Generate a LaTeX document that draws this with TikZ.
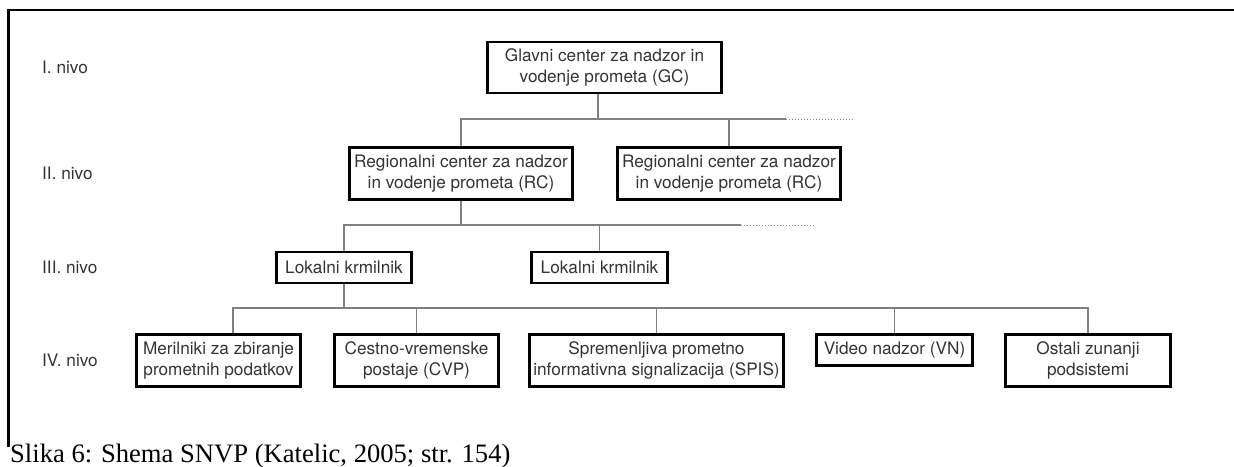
\documentclass[tikz,border=0pt]{standalone}
\usepackage{fontspec}
\newfontfamily\boxfont{TeX Gyre Heros}
\newfontfamily\capfont{Liberation Serif}
\begin{document}
\begin{tikzpicture}[x=1pt,y=-1pt,
  unit/.style={draw=black, line width=2.6pt, rectangle, inner sep=0pt,
    align=center, text=black!80, font=\boxfont\fontsize{17.2}{21}\selectfont},
  twoline/.style={unit, minimum height=52.5pt},
  oneline/.style={unit, minimum height=31pt},
  levellabel/.style={anchor=west, inner sep=0pt, text=black!80,
    font=\boxfont\fontsize{17.2}{21}\selectfont},
  conn/.style={draw=black!50, line width=1.2pt},
  dots/.style={draw=black!45, line width=1pt, dash pattern=on 1.2pt off 1.8pt}]
\useasboundingbox (0,0) rectangle (1234,466);

% outer frame (top and left edges)
\draw[line width=2.2pt] (1234,10) -- (8.5,10) -- (8.5,447);

% level labels
\node[levellabel] (lvI)   at (42,67.5)  {I. nivo};
\node[levellabel] (lvII)  at (42,173.5) {II. nivo};
\node[levellabel] (lvIII) at (42,267.5) {III. nivo};
\node[levellabel] (lvIV)  at (42,360.5) {IV. nivo};

% level I
\node[twoline, minimum width=234.5pt, minimum height=51pt] (gc) at (604.5,67.5)
  {Glavni center za nadzor in\\vodenje prometa (GC)};

% level II
\node[twoline, minimum width=223.5pt] (rc1) at (461,173.5)
  {Regionalni center za nadzor\\in vodenje prometa (RC)};
\node[twoline, minimum width=223.5pt] (rc2) at (729,173.5)
  {Regionalni center za nadzor\\in vodenje prometa (RC)};

% level III
\node[oneline, minimum width=135.5pt] (lk1) at (344,267.5) {Lokalni krmilnik};
\node[oneline, minimum width=136.5pt] (lk2) at (599.5,267.5) {Lokalni krmilnik};

% level IV
\node[twoline, minimum width=164.5pt] (s1) at (218.5,360.5)
  {Merilniki za zbiranje\\prometnih podatkov};
\node[twoline, minimum width=164.5pt] (s2) at (416.5,360.5)
  {Cestno-vremenske\\postaje (CVP)};
\node[twoline, minimum width=254.5pt] (s3) at (656.5,360.5)
  {Spremenljiva prometno\\informativna signalizacija (SPIS)};
\node[oneline, minimum width=156.5pt, minimum height=31.5pt] (s4) at (894.5,350)
  {Video nadzor (VN)};
\node[twoline, minimum width=165.5pt] (s5) at (1088,360.5)
  {Ostali zunanji\\podsistemi};

% bus junctions
\coordinate (j1)  at (598,119);
\coordinate (j1e) at (786,119);
\coordinate (j1d) at (855,119);
\coordinate (j2e) at (741,225);
\coordinate (j2d) at (814,225);
\coordinate (j3)  at (233,308);

% level I -> II
\draw[conn] (gc.south -| j1) -- (j1);
\draw[conn] (rc1.north) |- (j1e);
\draw[conn] (rc2.north) -- (rc2.north |- j1);
\draw[dots] (j1e) -- (j1d);

% level II -> III
\draw[conn] (rc1.south) -- (rc1.south |- j2e);
\draw[conn] (lk1.north) |- (j2e);
\draw[conn] (lk2.north) -- (lk2.north |- j2e);
\draw[dots] (j2e) -- (j2d);

% level III -> IV
\draw[conn] (lk1.south) -- (lk1.south |- j3);
\draw[conn] (j3 |- s1.north) -- (j3) -| (s5.north);
\draw[conn] (s2.north) -- (s2.north |- j3);
\draw[conn] (s3.north) -- (s3.north |- j3);
\draw[conn] (s4.north) -- (s4.north |- j3);

% caption
\node[anchor=base west, inner sep=0pt, font=\capfont\fontsize{26.6}{30}\selectfont]
  (cap) at (10,462) {Slika 6: Shema SNVP (Katelic, 2005; str. 154)};
\end{tikzpicture}
\end{document}
